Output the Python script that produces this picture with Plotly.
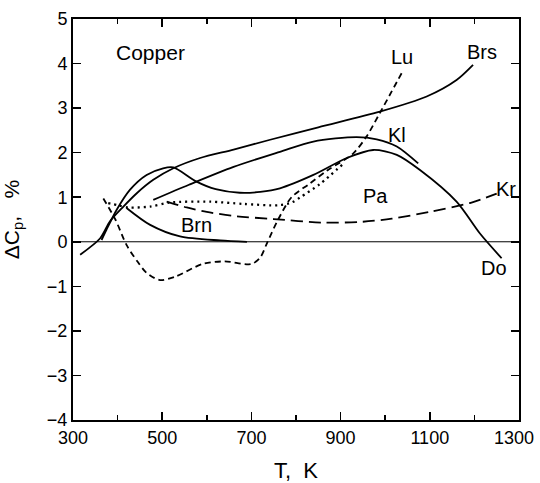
import plotly.graph_objects as go

# Brs (solid)
brs_T = [316, 361, 383, 413, 443, 480, 525, 585, 660, 742, 850, 988, 1093, 1160, 1197]
brs_C = [-0.29, 0.08, 0.46, 0.79, 1.09, 1.39, 1.65, 1.88, 2.07, 2.29, 2.57, 2.92, 3.26, 3.63, 3.97]

# Do (solid)
do_T = [364, 375, 398, 428, 465, 502, 525, 577, 620, 674, 720, 764, 839, 914, 973, 1026, 1078, 1160, 1212, 1261]
do_C = [0.04, 0.27, 0.72, 1.17, 1.50, 1.65, 1.67, 1.35, 1.18, 1.10, 1.12, 1.20, 1.50, 1.88, 2.06, 1.95, 1.61, 0.90, 0.19, -0.37]

# Kl (solid)
kl_T = [480, 560, 660, 764, 839, 936, 981, 1026, 1074]
kl_C = [0.94, 1.28, 1.68, 2.02, 2.25, 2.35, 2.30, 2.14, 1.76]

# Brn (solid)
brn_T = [420, 473, 540, 630, 690]
brn_C = [0.76, 0.38, 0.12, 0.03, 0.0]

# Lu (short dashes)
lu_T = [368, 395, 420, 445, 465, 495, 530, 590, 640, 700, 720, 735, 760, 790, 830, 870, 928, 958, 988, 1041]
lu_C = [0.97, 0.50, -0.07, -0.45, -0.70, -0.86, -0.78, -0.50, -0.44, -0.50, -0.35, -0.03, 0.50, 1.00, 1.30, 1.60, 1.98, 2.36, 2.89, 3.86]

# Kr (long dashes)
kr_T = [510, 555, 600, 660, 750, 860, 950, 1015, 1100, 1190, 1250]
kr_C = [0.90, 0.77, 0.67, 0.58, 0.51, 0.43, 0.45, 0.52, 0.67, 0.87, 1.08]

# Pa (dotted)
pa_T = [379, 400, 424, 473, 517, 607, 682, 760, 790, 810, 854, 906]
pa_C = [0.87, 0.82, 0.77, 0.79, 0.88, 0.90, 0.85, 0.82, 0.88, 1.00, 1.30, 1.75]

labels = ["Copper", "Brs", "Lu", "Kl", "Pa", "Kr", "Brn", "Do"]
label_T = [473, 1217, 1038, 1027, 979, 1271, 576, 1245]
label_C = [4.24, 4.26, 4.15, 2.40, 1.03, 1.19, 0.38, -0.58]

x_tickvals = [300, 500, 700, 900, 1100, 1300]
x_ticktext = ["300", "500", "700", "900", "1100", "1300\u00a0\u00a0"]

FONT = "Liberation Sans, Arial, Helvetica"

fig = go.Figure()

fig.add_trace(go.Scatter(x=[300, 1300], y=[0, 0], mode="lines",
                         line=dict(color="black", width=1), hoverinfo="skip"))

def add(xs, ys, dash, width=1.8):
    fig.add_trace(go.Scatter(x=xs, y=ys, mode="lines",
                             line=dict(color="black", width=width, dash=dash,
                                       shape="spline", smoothing=0.8)))

add(brs_T, brs_C, "solid")
add(do_T, do_C, "solid")
add(kl_T, kl_C, "solid")
add(brn_T, brn_C, "solid")
add(lu_T, lu_C, "6px,4px")
add(kr_T, kr_C, "12px,6px")
add(pa_T, pa_C, "2px,4px", width=2.3)

for t, c, s in zip(label_T, label_C, labels):
    fig.add_annotation(x=t, y=c, text=s, showarrow=False,
                       font=dict(family=FONT, size=20 if s != "Copper" else 21, color="black"))

axis_common = dict(showgrid=False, zeroline=False, showline=True, linecolor="black",
                   linewidth=2, mirror="allticks", ticks="inside", tickcolor="black",
                   tickwidth=1.5, ticklabeloverflow="allow",
                   tickfont=dict(family=FONT, size=18, color="black"))

fig.update_xaxes(range=[300, 1300], tickvals=x_tickvals, ticktext=x_ticktext,
                 ticklen=8,
                 minor=dict(dtick=100, tick0=300, ticks="inside", ticklen=5,
                            tickcolor="black", tickwidth=1.5),
                 title=dict(text="T,  K", font=dict(family=FONT, size=22, color="black"),
                            standoff=21),
                 **axis_common)
fig.update_yaxes(range=[-4, 5], dtick=1, ticklen=8,
                 title=dict(text="\u0394C<sub>p</sub>,   %", font=dict(family=FONT, size=21, color="black"),
                            standoff=26),
                 **axis_common)

fig.update_layout(width=540, height=483, showlegend=False,
                  plot_bgcolor="white", paper_bgcolor="white",
                  margin=dict(l=73, r=21, t=19, b=63, autoexpand=False))

# remove the page's default body margin so the figure fills the window exactly
fig.write_html("out.html",
               config={"displayModeBar": False, "staticPlot": True},
               post_script="document.body.style.margin='0';document.body.style.overflow='hidden';")
